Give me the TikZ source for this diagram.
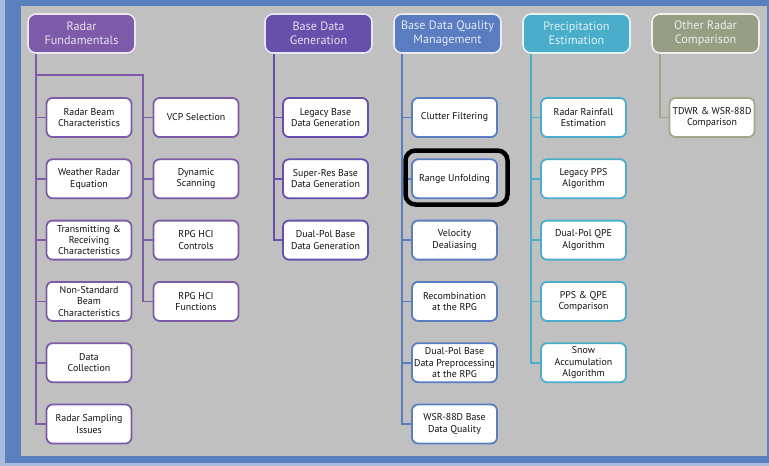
\documentclass[tikz,border=0pt]{standalone}
\usepackage{fontspec}
\setmainfont{PT Sans}
\pgfdeclarelayer{bg}
\pgfdeclarelayer{lines}
\pgfsetlayers{bg,lines,main}
\definecolor{panel}{HTML}{C0C0C0}
\definecolor{frameblue}{HTML}{5B80BE}
\definecolor{framelight}{HTML}{A9BBDD}
\definecolor{rfc}{HTML}{7E5BA8}
\definecolor{bdgc}{HTML}{6650AB}
\definecolor{bdqc}{HTML}{5A7DC1}
\definecolor{pec}{HTML}{4AAECB}
\definecolor{orc}{HTML}{979E84}
\definecolor{orl}{HTML}{A3A58A}
\definecolor{txt}{HTML}{111111}
\tikzset{
  head/.style={draw=white!85!#1, line width=1.6pt, fill=#1, rounded corners=8pt,
    minimum width=107pt, minimum height=39pt, inner sep=1pt, align=center,
    text=white!82!#1, font=\fontsize{12.2}{14}\selectfont},
  kid/.style={draw=#1, line width=1.8pt, fill=white, rounded corners=6pt,
    minimum width=85pt, minimum height=39pt, inner sep=0.5pt, align=center,
    text=txt, font=\fontsize{9.9}{11.4}\selectfont},
  conn/.style={draw=#1, line width=1.8pt}
}
\begin{document}
\begin{tikzpicture}[x=1pt,y=-1pt]
\useasboundingbox (0,0) rectangle (769,466);
\begin{pgfonlayer}{bg}
  \fill[frameblue] (0,0) rectangle (769,466);
  \fill[framelight] (0,0) rectangle (5,466);
  \fill[framelight] (0,463) rectangle (769,466);
  \fill[panel] (21,6) rectangle (767,456);
\end{pgfonlayer}

% headers
\node[head=rfc]  (rf)  at (81.5,33.5)  {Radar\\Fundamentals};
\node[head=bdgc] (bdg) at (318.5,33.5) {Base Data\\Generation};
\node[head=bdqc] (bdq) at (447.5,33.5) {Base Data Quality\\Management};
\node[head=pec]  (pe)  at (576.5,33.5) {Precipitation\\Estimation};
\node[head=orc]  (orh) at (705.5,33.5) {Other Radar\\Comparison};

% Radar Fundamentals column 1
\node[kid=rfc] (rb)   at (89,117.5) {Radar Beam\\Characteristics};
\node[kid=rfc] (wre)  at (89,178.8) {Weather Radar\\Equation};
\node[kid=rfc] (trc)  at (89,240.1) {Transmitting \&\\Receiving\\Characteristics};
\node[kid=rfc] (nsb)  at (89,301.4) {Non-Standard\\Beam\\Characteristics};
\node[kid=rfc] (dc)   at (89,362.7) {Data\\Collection};
\node[kid=rfc] (rsi)  at (89,424)   {Radar Sampling\\Issues};
% column 2
\node[kid=rfc] (vcp)  at (196,117.5) {VCP Selection};
\node[kid=rfc] (dyn)  at (196,178.8) {Dynamic\\Scanning};
\node[kid=rfc] (hcic) at (196,240.1) {RPG HCI\\Controls};
\node[kid=rfc] (hcif) at (196,301.4) {RPG HCI\\Functions};

% Base Data Generation
\node[kid=bdgc] (lbd) at (325.5,117.5) {Legacy Base\\Data Generation};
\node[kid=bdgc] (srb) at (325.5,178.8) {Super-Res Base\\Data Generation};
\node[kid=bdgc] (dpb) at (325.5,240.1) {Dual-Pol Base\\Data Generation};

% Base Data Quality Management
\node[kid=bdqc] (clf) at (454.5,117.5) {Clutter Filtering};
\node[kid=bdqc] (ruf) at (454.5,178.8) {Range Unfolding};
\node[kid=bdqc] (vda) at (454.5,240.1) {Velocity\\Dealiasing};
\node[kid=bdqc] (rec) at (454.5,301.4) {Recombination\\at the RPG};
\node[kid=bdqc] (dpp) at (454.5,362.7) {Dual-Pol Base\\Data Preprocessing\\at the RPG};
\node[kid=bdqc] (wbq) at (454.5,424)   {WSR-88D Base\\Data Quality};

% highlight
\node[draw=black, line width=4.5pt, rounded corners=10pt, minimum width=102pt,
      minimum height=54pt, inner sep=0pt] (hl) at (456.5,177.5) {};

% Precipitation Estimation
\node[kid=pec] (rre) at (583.5,117.5) {Radar Rainfall\\Estimation};
\node[kid=pec] (lpp) at (583.5,178.8) {Legacy PPS\\Algorithm};
\node[kid=pec] (dpq) at (583.5,240.1) {Dual-Pol QPE\\Algorithm};
\node[kid=pec] (ppq) at (583.5,301.4) {PPS \& QPE\\Comparison};
\node[kid=pec] (saa) at (583.5,362.7) {Snow\\Accumulation\\Algorithm};

% Other Radar Comparison
\node[kid=orl] (tdw) at (712,117.5) {TDWR \& WSR-88D\\Comparison};

% connectors
\coordinate (rfj) at (36,75);
\coordinate (rfk) at (143,75);
\coordinate (bdgx) at (274,0);
\coordinate (bdqx) at (402,0);
\coordinate (pex) at (531,0);
\coordinate (orx) at (660,0);
\begin{pgfonlayer}{lines}
  \draw[conn=rfc] (rf.south -| rfj) |- (rsi.west);
  \draw[conn=rfc] (rfj) -- (rfk) |- (hcif.west);
  \foreach \n in {rb,wre,trc,nsb,dc} \draw[conn=rfc] (rfj |- \n.west) -- (\n.west);
  \foreach \n in {vcp,dyn,hcic} \draw[conn=rfc] (rfk |- \n.west) -- (\n.west);

  \draw[conn=bdgc] (bdg.south -| bdgx) |- (dpb.west);
  \foreach \n in {lbd,srb} \draw[conn=bdgc] (bdgx |- \n.west) -- (\n.west);

  \draw[conn=bdqc] (bdq.south -| bdqx) |- (wbq.west);
  \foreach \n in {clf,ruf,vda,rec,dpp} \draw[conn=bdqc] (bdqx |- \n.west) -- (\n.west);

  \draw[conn=pec] (pe.south -| pex) |- (saa.west);
  \foreach \n in {rre,lpp,dpq,ppq} \draw[conn=pec] (pex |- \n.west) -- (\n.west);

  \draw[conn=orl] (orh.south -| orx) |- (tdw.west);
\end{pgfonlayer}
\end{tikzpicture}
\end{document}
